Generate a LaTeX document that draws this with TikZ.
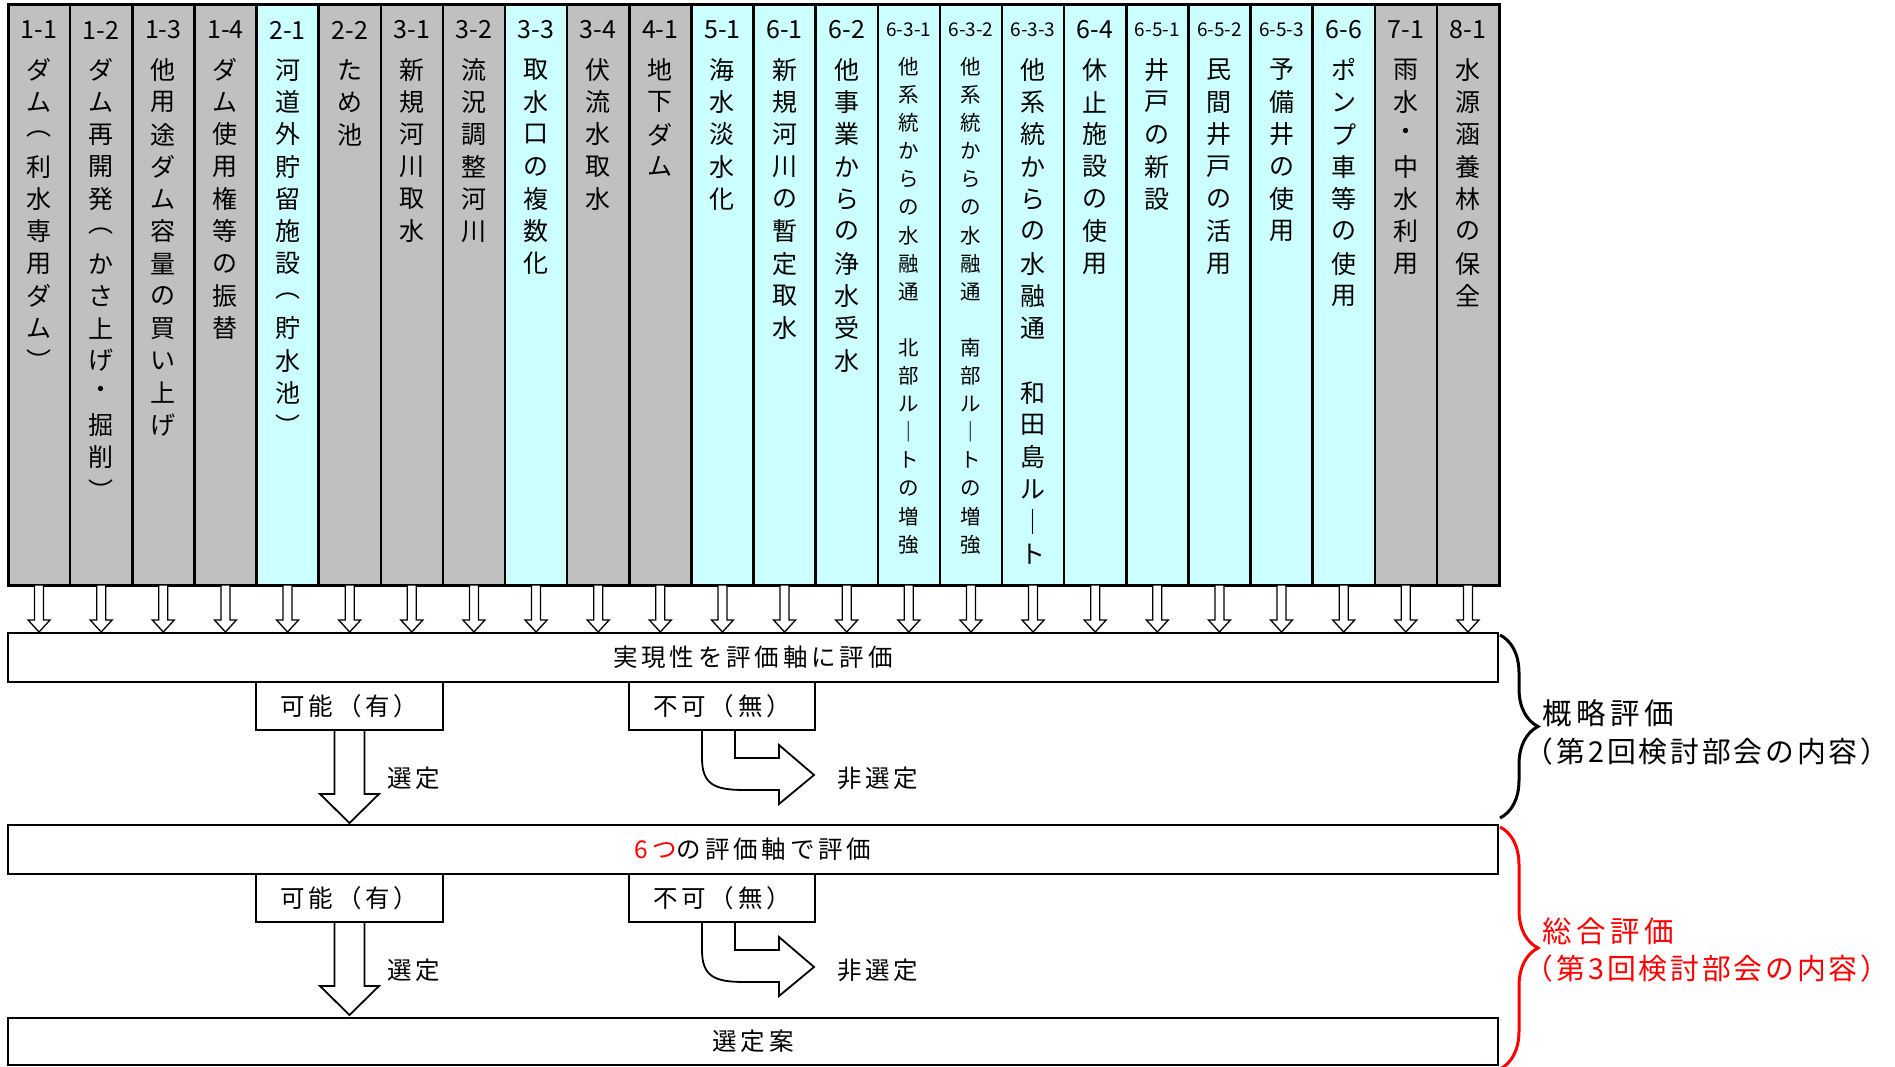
\documentclass[tikz,border=0pt]{standalone}
\usepackage{fontspec}
\setmainfont{Noto Sans CJK JP}
\newfontfamily\lsfont{Noto Sans CJK JP}[LetterSpace=15.5]
\newfontfamily\lsfontb{Noto Sans CJK JP}[LetterSpace=10]
\usetikzlibrary{decorations.pathreplacing,calc}
\definecolor{gcol}{HTML}{C0C0C0}
\definecolor{ccol}{HTML}{CCFFFF}
\ExplSyntaxOn
\NewDocumentCommand \VStack { m m }
  {
    \vbox:n
      {
        \offinterlineskip
        \exp_args:No \tl_map_inline:nn {#2}
          {
            \hbox_to_wd:nn { 0pt }
              { \hss \vbox_to_ht:nn {#1} { \vss \hbox:n {##1} \vss } \hss }
          }
      }
  }
\ExplSyntaxOff
\newcommand\selarrow[1]{%
  \coordinate (p) at (#1.south);
  \draw[bigarrow] ($(p)+(-15,0)$) -- ($(p)+(-15,64)$) -- ($(p)+(-29.5,64)$) -- ($(p)+(0,93)$) -- ($(p)+(29.5,64)$) -- ($(p)+(15,64)$) -- ($(p)+(15,0)$) -- cycle;}
\newcommand\bentarrow[1]{%
  \coordinate (o) at (#1.south);
  \draw[bigarrow] ($(o)+(-20,0)$) -- ($(o)+(-20,28)$) .. controls ($(o)+(-20,55)$) and ($(o)+(-7,60)$) .. ($(o)+(23,60)$) -- ($(o)+(57,60)$) -- ($(o)+(57,74)$) -- ($(o)+(92,45)$) -- ($(o)+(57,15)$) -- ($(o)+(57,28)$) -- ($(o)+(13,28)$) -- ($(o)+(13,0)$) -- cycle;}
\begin{document}
\begin{tikzpicture}[x=1pt,y=-1pt,
  colbox/.style={draw, line width=2.5pt, inner sep=0, outer sep=0, minimum width=62.125pt, minimum height=581pt, anchor=north west},
  smarrow/.style={draw=black, fill=white, line width=1.3pt, line join=miter},
  bigarrow/.style={draw=black, fill=white, line width=1.8pt, line join=miter},
  evalbox/.style={draw, line width=2.5pt, fill=white, inner sep=0, outer sep=0, font=\lsfont\fontsize{24.5}{24.5}\selectfont},
  lbl/.style={inner sep=0, font=\lsfont\fontsize{24.5}{24.5}\selectfont},
  brlbl/.style={inner sep=0, anchor=west, font=\lsfont\fontsize{29.5}{29.5}\selectfont},
  brlblb/.style={inner sep=0, anchor=west, font=\lsfontb\fontsize{28.8}{28.8}\selectfont},
  brc/.style={decorate, decoration={brace, amplitude=38pt}, line width=3pt}]
\useasboundingbox (0,0) rectangle (1895,1066);
\foreach \cn/\ct/\cc/\chs/\cb [count=\i] in {
1-1/ダム︵利水専用ダム︶/gcol/25/0,
1-2/ダム再開発︵かさ上げ・掘削︶/gcol/25/0,
1-3/他用途ダム容量の買い上げ/gcol/25/0,
1-4/ダム使用権等の振替/gcol/25/0,
2-1/河道外貯留施設︵貯水池︶/ccol/25/0,
2-2/ため池/gcol/25/0,
3-1/新規河川取水/gcol/25/0,
3-2/流況調整河川/gcol/25/0,
3-3/取水口の複数化/ccol/25/0,
3-4/伏流水取水/gcol/25/0,
4-1/地下ダム/gcol/25/0,
5-1/海水淡水化/ccol/25/0,
6-1/新規河川の暫定取水/ccol/25/0,
6-2/他事業からの浄水受水/ccol/25/0,
6-3-1/他系統からの水融通　北部ル｜トの増強/ccol/19/1,
6-3-2/他系統からの水融通　南部ル｜トの増強/ccol/19/1,
6-3-3/他系統からの水融通　和田島ル｜ト/ccol/19/0,
6-4/休止施設の使用/ccol/25/0,
6-5-1/井戸の新設/ccol/19/0,
6-5-2/民間井戸の活用/ccol/19/0,
6-5-3/予備井の使用/ccol/19/0,
6-6/ポンプ車等の使用/ccol/25/0,
7-1/雨水・中水利用/gcol/25/0,
8-1/水源涵養林の保全/gcol/25/0}
{
  \ifnum\cb=1 \def\myfs{20.5}\def\mypitch{28.1}\def\mytop{52.5}\else\def\myfs{25}\def\mypitch{32.3}\def\mytop{53.5}\fi
  \node[colbox, fill=\cc] (col\i) at ({8+62.125*(\i-1)},4) {};
  \node[inner sep=0, font=\fontsize{\chs}{\chs}\selectfont] (num\i) at ({8+62.125*(\i-0.5)},30) {\cn};
  \node[inner sep=0, anchor=north, font=\fontsize{\myfs}{\myfs}\selectfont] (txt\i) at ({8+62.125*(\i-0.5)},\mytop) {\VStack{\mypitch pt}{\ct}};
}
\draw[line width=3pt] (8,4) rectangle (1499,585);
% evaluation boxes
\node[evalbox, minimum width=1490pt, minimum height=49pt] (box1) at (753,657.5) {実現性を評価軸に評価};
\node[evalbox, minimum width=187pt, minimum height=48pt] (kn1) at (349.5,706) {可能（有）};
\node[evalbox, minimum width=186pt, minimum height=48pt] (nk1) at (722,706) {不可（無）};
\node[evalbox, minimum width=1490pt, minimum height=49pt] (box2) at (753,849.5) {{\color{red}6\kern4pt つ}の評価軸で評価};
\node[evalbox, minimum width=187pt, minimum height=48pt] (kn2) at (349.5,898) {可能（有）};
\node[evalbox, minimum width=186pt, minimum height=48pt] (nk2) at (722,898) {不可（無）};
\node[evalbox, minimum width=1490pt, minimum height=47pt] (box3) at (753,1041.5) {選定案};
% small arrows
\foreach \i in {1,...,24}{
  \draw[smarrow] ($(col\i.south)+(-4.5,0)$) -- ++(0,35) -- ++(-6.5,0) -- ++(11,12) -- ++(11,-12) -- ++(-6.5,0) -- ++(0,-35) -- cycle;
}
% big arrows
\selarrow{kn1}
\bentarrow{nk1}
\selarrow{kn2}
\bentarrow{nk2}
\node[lbl, anchor=west] (sel1) at (387,778) {選定};
\node[lbl, anchor=west] (nsel1) at (837,778) {非選定};
\node[lbl, anchor=west] (sel2) at (387,970) {選定};
\node[lbl, anchor=west] (nsel2) at (837,970) {非選定};
% braces
\coordinate (b1a) at (1500,635);
\coordinate (b1b) at (1500,818);
\draw[brc] (b1a) -- (b1b);
\coordinate (b2a) at (1500,827);
\coordinate (b2b) at (1500,1069);
\draw[brc, red] (b2a) -- (b2b);
\node[brlbl] (ev1) at (1542,713) {概略評価};
\node[brlblb] (ev1b) at (1542,752) {\kern-0.6em（第2回検討部会の内容）\kern-0.6em};
\node[brlbl, text=red] (ev2) at (1542,931) {総合評価};
\node[brlblb, text=red] (ev2b) at (1542,969) {\kern-0.6em（第3回検討部会の内容）\kern-0.6em};
\end{tikzpicture}
\end{document}
